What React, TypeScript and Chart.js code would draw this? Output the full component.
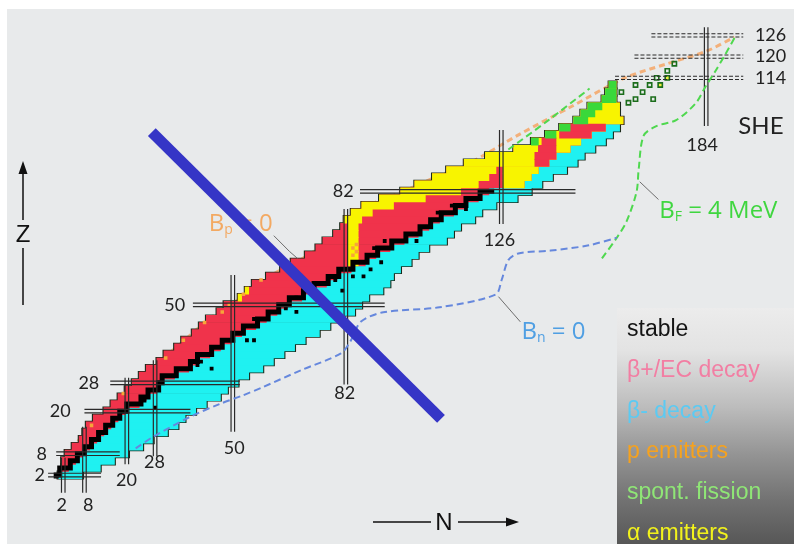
import React, { useEffect, useRef } from "react";
import { Chart, registerables } from "chart.js";

Chart.register(...registerables);

// ---------- nuclide chart data (one row per two protons, cell numbers in N) ----------
const rowZ = [2,4,6,8,10,12,14,16,18,20,22,24,26,28,30,32,34,36,38,40,42,44,46,48,50,52,54,56,58,60,62,64,66,68,70,72,74,76,78,80,82,84,86,88,90,92,94,96,98,100,102,104,106,108,110,112];
const protonSideN = [1,2,2,3,5,7,8,9,11,14,16,18,20,22,24,26,29,31,34,36,39,41,43,46,48,52,54,56,60,64,67,71,74,76,79,81,82,84,87,92,98,102,107,111,116,122,130,135,139,143,147,149,151,155,156,157];
const neutronSideN = [7,12,16,20,24,27,31,34,36,39,42,46,48,51,54,58,61,64,67,70,74,77,81,84,86,88,92,94,95,97,100,102,105,110,112,114,118,120,124,130,134,137,140,144,147,149,152,155,157,159,160,159,159,158,158,158];
const betaDivideN = [1,4,6,8,10,12,14,16,18,20,24,26,29,30,34,38,40,44,47,50,53,57,60,63,66,70,73,77,80,84,88,91,95,99,103,106,109,113,116,120,123,133,135,137,140,142,146,149,152,156,null,null,null,null,null,null];

// valley of stability (black staircase)
const stableZ = [1,2,4,6,8,10,12,14,16,18,20,22,24,26,28,30,32,34,36,38,40,42,44,46,48,50,52,54,56,58,60,62,64,66,68,70,72,74,76,78,80,82];
const stableN = [0,1,4,6,8,10,12,14,16,18,20,24,26,29,30,34,38,40,44,47,50,53,57,60,63,66,70,73,77,80,84,88,91,95,99,103,106,109,113,116,120,124];

const alphaZ = [52,54,74,76,78,80,82,84,86,88,90,92,94,96,98,100,102,104,106,108,110,112];
const alphaEndN = [52,54,86,89,95,104,114,119,122,124,139,141,145,148,151,155,160,159,159,158,158,158];
const alphaExtraZ = [62,64,66,68,70,72,84,86,88];
const alphaExtraLowN = [83,83,83,83,83,83,127,127,127];
const alphaExtraHighN = [85,85,85,85,85,85,132,134,136];

const betaPlusIslandZ = [90,92,94,96,98,100];
const betaPlusIslandLowN = [136,136,137,138,143,144];
const betaPlusIslandHighN = [139,141,141,141,151,155];

const fissionZ = [96,98,100,102,104,106,108,110,112];
const fissionLowN = [135,139,143,147,149,151,155,156,157];
const fissionHighN = [136,141,145,150,152,154,158,158,158];

const longLivedN = [25,28,40,41,44,44,54,56,55,56,65,68,68,76,79,81,84,87,89,92,90,92,93,95,102,102,106,108,112,116,116];
const longLivedZ = [23,21,33,34,32,36,40,40,44,46,49,48,52,56,57,54,58,58,60,62,66,66,68,68,68,70,73,76,78,80,77];

const pEmitterN = [84,84,85,85,10,19,31,36,42,47,49,53,58];
const pEmitterZ = [64,66,65,67,16,25,35,40,45,48,50,53,57];

const sheCellN = [162,164,164,166,169,168,170,173,175,160];
const sheCellZ = [107,112,108,110,108,112,114,116,118,110];
const sheAlphaN = [171,173];
const sheAlphaZ = [112,114];

// magic numbers
const magicN = [2,8,20,28,50,82,126,184];
const magicNZFrom = [-3,-3,5,7.3,14.2,27.5,72.8,100.4];
const magicNZTo = [6.9,15.6,29.4,34.4,58.4,77,99.3,128.3];
const magicZ = [2,8,20,28,50,82];
const magicZNFrom = [-2.3,0,8,15.3,38.7,86];
const magicZNTo = [12.7,18,38,52,93,147];
const shellZ = [114,120,126];
const shellNFrom = [158.2,163.7,168.5];
const shellNTo = [194.5,194.5,194.5];

// limit curves
const bpN = [2.3,5.3,9.3,16.3,22.3,29.3,36.3,43.3,52.3,60.3,71.3,79.3,84.3,98.3,107.3,117,131,146,161,173,184,192];
const bpZ = [4,10,16,22,28,34,40,46,52,58,64,70,76,82,86,90,98,106,114,118,121.5,125.5];
const bnN = [22.5,27.5,37.9,46.2,52.7,58.3,69.4,80.6,83.4,86.2,92.6,108.5,124.4,126.1,128.0,130.8,140.0,150.4,158.7];
const bnZ = [9.5,12.8,18.4,22.0,24.4,26.7,31.6,36.3,39.9,45.2,47.9,49.3,52.9,57.0,62.6,64.5,65.3,66.7,68.9];
const bfN = [154.5,158.7,161.5,164.3,164.9,166.3,169.9,175.5,181.0,183.8,186.6,189.4,192.2];
const bfZ = [63.1,68.9,73.6,81.9,88.3,97.7,100.4,102.1,106.8,111.5,115.9,120.6,125.6];
const bf2N = [128,139,151];
const bf2Z = [93.8,101.8,111];

const crossN = [27.07,108.93];
const crossZ = [98.7,17.82];

const legendLabels = ["stable","\u03b2+/EC decay","\u03b2- decay","p emitters","spont. fission","\u03b1 emitters"];
const legendColors = ["#141414","#f27ea3","#5ccaf2","#f6a21e","#8fe676","#f2f21c"];

// ---------- helpers ----------
const idx = (z: number) => rowZ.indexOf(z);
const bar = (z: number, lo: number, hi: number) => ({ y: z, x: [lo - 0.5, hi + 0.5] });
const pts = (ns: number[], zs: number[]) => ns.map((n, i) => ({ x: n, y: zs[i] }));
const GAP = { x: null, y: null };

const outlineData = rowZ.map((z, i) => ({ y: z, x: [protonSideN[i] - 0.9, neutronSideN[i] + 0.9] }));
const betaMinusData = rowZ.flatMap((z, i) => (betaDivideN[i] == null ? [] : [bar(z, betaDivideN[i] as number, neutronSideN[i])]));
const betaPlusData = rowZ.map((z, i) => ({ y: z, x: [protonSideN[i] - 0.5, betaDivideN[i] == null ? neutronSideN[i] + 0.5 : (betaDivideN[i] as number) - 0.5] }));
const alphaData = alphaZ.map((z, k) => bar(z, protonSideN[idx(z)], alphaEndN[k]));
const alphaExtraData = alphaExtraZ.map((z, k) => bar(z, alphaExtraLowN[k], alphaExtraHighN[k]));
const islandData = betaPlusIslandZ.map((z, k) => bar(z, betaPlusIslandLowN[k], betaPlusIslandHighN[k]));
const fissionData = fissionZ.map((z, k) => bar(z, fissionLowN[k], fissionHighN[k]));

const magicData: any[] = [];
magicN.forEach((n, i) => {
  [-0.5, 0.5].forEach((d) => {
    magicData.push({ x: n + d, y: magicNZFrom[i] }, { x: n + d, y: magicNZTo[i] }, GAP);
  });
});
magicZ.forEach((z, i) => {
  [-0.5, 0.5].forEach((d) => {
    magicData.push({ x: magicZNFrom[i], y: z + d }, { x: magicZNTo[i], y: z + d }, GAP);
  });
});
const shellData: any[] = [];
shellZ.forEach((z, i) => {
  [-0.45, 0.45].forEach((d) => {
    shellData.push({ x: shellNFrom[i], y: z + d }, { x: shellNTo[i], y: z + d }, GAP);
  });
});

// leader lines of the curve labels
const leaderData = [
  { x: 61.6, y: 69.5 }, { x: 66.1, y: 65.0 }, { x: 68.3, y: 63.1 }, GAP,
  { x: 125.2, y: 52.3 }, { x: 131.4, y: 45.2 }, GAP,
  { x: 165.2, y: 84.7 }, { x: 170.5, y: 79.7 },
];

const barBase = { type: "bar", indexAxis: "y", grouped: false, barPercentage: 1, categoryPercentage: 1, borderWidth: 0 };
const lineBase = { type: "line", pointRadius: 0, fill: false, tension: 0 };

// label layout (text anchors in N/Z units)
const zLabelRightN = [-3.2, -2.6, 4.1, 12.2, 36.5, 84.2];
const nLabelCenterN = [1.6, 9.1, 19.9, 27.8, 50.4, 81.7, 125.5, 182.9];
const nLabelZ = [-6.5, -6.5, 0.4, 5.7, 9.5, 25, 68.1, 94.9];
const shellLabelN = 197.8;

const decorPlugin = {
  id: "decor",
  beforeDraw(chart: any) {
    const { ctx, width, height } = chart;
    ctx.save();
    ctx.fillStyle = "#ffffff";
    ctx.fillRect(0, 0, width, height);
    ctx.fillStyle = "#e8eaeb";
    ctx.fillRect(7, 9, width - 7, height - 9);
    const g = ctx.createLinearGradient(0, 308, 0, height);
    g.addColorStop(0, "#ececec");
    g.addColorStop(0.18, "#e3e3e3");
    g.addColorStop(0.42, "#bcbcbc");
    g.addColorStop(0.62, "#949494");
    g.addColorStop(0.82, "#717171");
    g.addColorStop(1, "#575757");
    ctx.fillStyle = g;
    ctx.fillRect(617, 308, width - 617, height - 308);
    ctx.restore();
  },
  beforeDatasetsDraw(chart: any) {
    const { ctx } = chart;
    const sx = chart.scales.x;
    const sy = chart.scales.y;
    const px = (n: number) => sx.getPixelForValue(n);
    const py = (z: number) => sy.getPixelForValue(z);
    ctx.save();
    // magic number labels
    ctx.fillStyle = "#222";
    ctx.font = '18px Lato';
    ctx.textBaseline = "middle";
    ctx.textAlign = "right";
    magicZ.forEach((z, i) => ctx.fillText(String(z), px(zLabelRightN[i]), py(z)));
    ctx.textAlign = "center";
    magicN.forEach((n, i) => ctx.fillText(String(n), px(nLabelCenterN[i]), py(nLabelZ[i])));
    ctx.textAlign = "left";
    shellZ.forEach((z) => ctx.fillText(String(z), px(shellLabelN), py(z)));
    ctx.font = '24px Lato';
    ctx.fillText("SHE", px(193.1), py(100.4));

    // curve labels
    const bLabel = (sub: string, rest: string, n: number, z: number, color: string) => {
      let x = px(n);
      const y = py(z);
      ctx.fillStyle = color;
      ctx.font = '24px "Open Sans"';
      ctx.fillText("B", x, y);
      x += ctx.measureText("B").width;
      ctx.font = '14px "Open Sans"';
      ctx.fillText(sub, x, y + 6);
      x += ctx.measureText(sub).width;
      ctx.font = '24px "Open Sans"';
      ctx.fillText(rest, x, y);
    };
    bLabel("p", " = 0", 43.2, 72.8, "#f3a962");
    bLabel("n", " = 0", 131.7, 42.4, "#4f9fe3");
    bLabel("F", " = 4 MeV", 170.7, 76.4, "#3fd63f");

    // axis arrows
    ctx.strokeStyle = "#111";
    ctx.fillStyle = "#111";
    ctx.lineWidth = 1.5;
    ctx.beginPath();
    ctx.moveTo(23, 172); ctx.lineTo(23, 220);
    ctx.moveTo(23, 248); ctx.lineTo(23, 305);
    ctx.moveTo(373, 522); ctx.lineTo(431, 522);
    ctx.moveTo(458, 522); ctx.lineTo(508, 522);
    ctx.stroke();
    ctx.beginPath();
    ctx.moveTo(23, 161); ctx.lineTo(18.5, 174); ctx.lineTo(27.5, 174); ctx.closePath();
    ctx.moveTo(519, 522); ctx.lineTo(506, 517.5); ctx.lineTo(506, 526.5); ctx.closePath();
    ctx.fill();
    ctx.font = '24px "Liberation Sans"';
    ctx.textAlign = "center";
    ctx.fillText("Z", 23, 235);
    ctx.fillText("N", 444, 523);

    // legend texts
    ctx.textAlign = "left";
    ctx.textBaseline = "alphabetic";
    ctx.font = '23px "Liberation Sans"';
    legendLabels.forEach((t, i) => {
      ctx.fillStyle = legendColors[i];
      ctx.fillText(t, 627, 336 + 40.8 * i);
    });
    ctx.restore();
  },
};

export default function App() {
  const ref = useRef<HTMLCanvasElement>(null);
  useEffect(() => {
    const datasets: any[] = [
      { ...lineBase, label: "Bp=0", data: pts(bpN, bpZ), borderColor: "#f3b07a", borderWidth: 3, borderDash: [6, 4], tension: 0.3, order: 100 },
      { ...barBase, label: "outline", data: outlineData, backgroundColor: "#1a2a1a", barPercentage: 1.3, order: 90 },
      { ...barBase, label: "beta-", data: betaMinusData, backgroundColor: "#1ff1f1", order: 80 },
      { ...barBase, label: "beta+", data: betaPlusData, backgroundColor: "#f0334b", order: 79 },
      { ...barBase, label: "alpha", data: alphaData, backgroundColor: "#f8f400", order: 78 },
      { ...barBase, label: "alpha2", data: alphaExtraData, backgroundColor: "#f8f400", order: 77 },
      { ...barBase, label: "beta+ islands", data: islandData, backgroundColor: "#f0334b", order: 76 },
      { ...barBase, label: "fission", data: fissionData, backgroundColor: "#3ad83a", order: 75 },
      { ...lineBase, label: "stable", data: pts(stableN, stableZ), stepped: "after", borderColor: "#000000", borderWidth: 5, borderJoinStyle: "miter", order: 70 },
      { type: "scatter", label: "long-lived", data: pts(longLivedN, longLivedZ), pointStyle: "rect", pointRadius: 2.7, pointBackgroundColor: "#000", pointBorderWidth: 0, order: 65 },
      { type: "scatter", label: "p emitters", data: pts(pEmitterN, pEmitterZ), pointStyle: "rect", pointRadius: 2.5, pointBackgroundColor: "#f7a53a", pointBorderWidth: 0, order: 64 },
      { type: "scatter", label: "SHE", data: pts(sheCellN, sheCellZ), pointStyle: "rect", pointRadius: 3, pointBackgroundColor: "rgba(0,0,0,0)", pointBorderColor: "#1b6d1b", pointBorderWidth: 1.6, order: 63 },
      { type: "scatter", label: "SHE alpha", data: pts(sheAlphaN, sheAlphaZ), pointStyle: "rect", pointRadius: 3, pointBackgroundColor: "#f0f040", pointBorderColor: "#1b6d1b", pointBorderWidth: 1.6, order: 62 },
      { ...lineBase, label: "magic", data: magicData, borderColor: "#2a2a2a", borderWidth: 1.2, order: 50 },
      { ...lineBase, label: "shells", data: shellData, borderColor: "#2a2a2a", borderWidth: 1.1, borderDash: [4, 2], order: 50 },
      { ...lineBase, label: "Bn=0", data: pts(bnN, bnZ), borderColor: "#6688dd", borderWidth: 2, borderDash: [7, 4], tension: 0.3, order: 45 },
      { ...lineBase, label: "BF=4MeV", data: pts(bfN, bfZ), borderColor: "#4fd84f", borderWidth: 2, borderDash: [7, 4], tension: 0.3, order: 45 },
      { ...lineBase, label: "BF2", data: pts(bf2N, bf2Z), borderColor: "#4fd84f", borderWidth: 2, borderDash: [7, 4], tension: 0.3, order: 45 },
      { ...lineBase, label: "leaders", data: leaderData, borderColor: "#6e6e6e", borderWidth: 1, order: 44 },
      { ...lineBase, label: "cross", data: pts(crossN, crossZ), borderColor: "#3535c6", borderWidth: 11, borderCapStyle: "butt", order: 0 },
    ];
    const chart = new Chart(ref.current as HTMLCanvasElement, {
      type: "bar",
      data: { datasets },
      options: {
        animation: false,
        responsive: true,
        maintainAspectRatio: false,
        events: [],
        layout: { padding: 0 },
        plugins: { legend: { display: false }, tooltip: { enabled: false } },
        scales: {
          x: { type: "linear", min: -14.32, max: 207.28, display: false, offset: false, grid: { offset: false } },
          y: { type: "linear", min: -15.88, max: 134.39, display: false, offset: false, grid: { offset: false } },
        },
      },
      plugins: [decorPlugin],
    } as any);
    return () => chart.destroy();
  }, []);
  return (
    <div style={{ position: "fixed", left: 0, top: 0, width: 794, height: 544 }}>
      <canvas ref={ref} />
    </div>
  );
}
